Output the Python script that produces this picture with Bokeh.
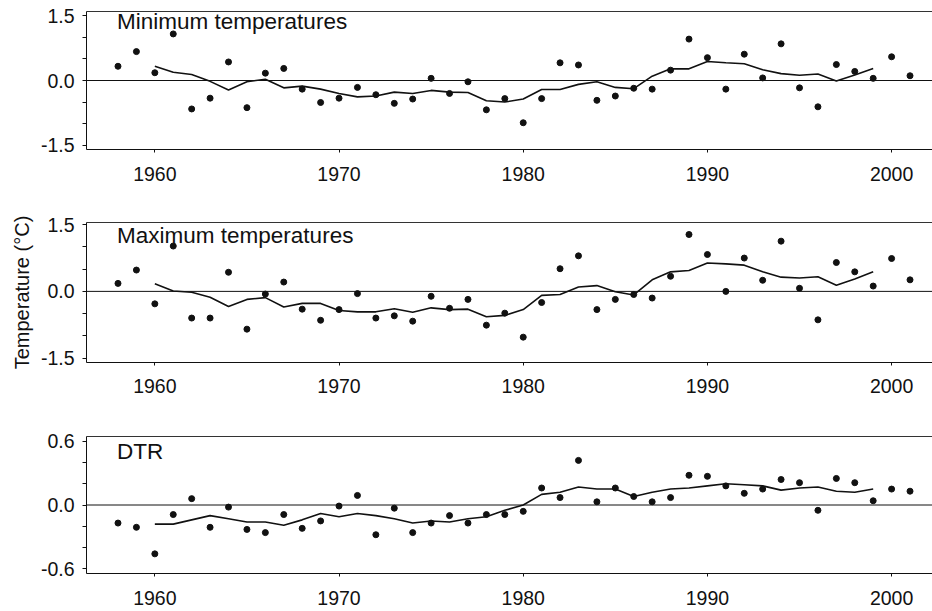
from bokeh.plotting import figure
from bokeh.layouts import column
from bokeh.models import (Range1d, FixedTicker, PrintfTickFormatter, Span, Label,
                          LinearAxis, ColumnDataSource)
from bokeh.embed import file_html
from bokeh.resources import INLINE

years = list(range(1958, 2002))
smooth_years = list(range(1960, 2000))

tmin = [0.33, 0.67, 0.18, 1.08, -0.66, -0.41, 0.43, -0.63, 0.17, 0.28,
        -0.2, -0.51, -0.41, -0.16, -0.33, -0.53, -0.43, 0.05, -0.3, -0.03,
        -0.68, -0.42, -0.98, -0.42, 0.41, 0.36, -0.46, -0.36, -0.18, -0.2,
        0.24, 0.96, 0.53, -0.2, 0.61, 0.06, 0.85, -0.17, -0.61, 0.37,
        0.21, 0.05, 0.55, 0.11]
tmin_smooth = [0.33, 0.19, 0.14, -0.02, -0.22, -0.03, 0.03, -0.17, -0.13, -0.2,
               -0.3, -0.38, -0.36, -0.27, -0.3, -0.23, -0.27, -0.28, -0.47, -0.5,
               -0.43, -0.21, -0.21, -0.09, -0.03, -0.16, -0.19, 0.1, 0.27, 0.27,
               0.44, 0.41, 0.39, 0.25, 0.16, 0.12, 0.15, -0.01, 0.13, 0.28]

tmax = [0.18, 0.48, -0.28, 1.02, -0.6, -0.6, 0.43, -0.85, -0.06, 0.21,
        -0.4, -0.65, -0.41, -0.05, -0.6, -0.55, -0.67, -0.11, -0.38, -0.18,
        -0.76, -0.49, -1.03, -0.25, 0.51, 0.8, -0.41, -0.18, -0.07, -0.15,
        0.34, 1.28, 0.83, 0.0, 0.75, 0.25, 1.13, 0.07, -0.64, 0.65,
        0.44, 0.12, 0.74, 0.26]
tmax_smooth = [0.17, 0.01, -0.02, -0.13, -0.34, -0.18, -0.14, -0.35, -0.27, -0.27,
               -0.43, -0.46, -0.46, -0.39, -0.47, -0.37, -0.41, -0.4, -0.57, -0.54,
               -0.41, -0.09, -0.07, 0.1, 0.13, -0.01, -0.08, 0.26, 0.44, 0.47,
               0.64, 0.62, 0.59, 0.44, 0.32, 0.3, 0.33, 0.14, 0.28, 0.44]

dtr = [-0.17, -0.21, -0.46, -0.09, 0.06, -0.21, -0.02, -0.23, -0.26, -0.09,
       -0.22, -0.15, -0.01, 0.09, -0.28, -0.03, -0.26, -0.17, -0.1, -0.17,
       -0.09, -0.09, -0.06, 0.16, 0.07, 0.42, 0.03, 0.16, 0.08, 0.03,
       0.07, 0.28, 0.27, 0.18, 0.11, 0.15, 0.24, 0.21, -0.05, 0.25,
       0.21, 0.04, 0.15, 0.13]
dtr_smooth = [-0.18, -0.18, -0.14, -0.1, -0.13, -0.16, -0.16, -0.19, -0.14, -0.08,
              -0.11, -0.08, -0.1, -0.13, -0.17, -0.15, -0.16, -0.13, -0.11, -0.05,
              0.0, 0.1, 0.12, 0.17, 0.15, 0.15, 0.08, 0.12, 0.15, 0.16,
              0.18, 0.2, 0.19, 0.18, 0.14, 0.16, 0.17, 0.13, 0.12, 0.15]

x_ticks = [1960, 1970, 1980, 1990, 2000]
titles = ["Minimum temperatures", "Maximum temperatures", "DTR"]
y_label = "Temperature (°C)"

FONT = "Liberation Sans"
INK = "#111111"


def make_panel(values, smooth, title, yrange, yticks, yminor, height,
               top, bottom, title_y, xstandoff, ylabel=None):
    p = figure(width=932, height=height, output_backend="svg",
               toolbar_location=None,
               x_range=Range1d(1956.29, 2002.22),
               y_range=Range1d(*yrange),
               min_border_left=86, min_border_right=0,
               min_border_top=top, min_border_bottom=bottom)
    p.outline_line_color = None
    p.grid.visible = False
    p.background_fill_color = "white"
    p.border_fill_color = "white"

    xa = p.xaxis[0]
    xa.ticker = FixedTicker(ticks=x_ticks, minor_ticks=[])
    xa.major_tick_in = 0
    xa.major_tick_out = 3
    xa.minor_tick_line_color = None
    xa.axis_line_color = INK
    xa.major_tick_line_color = INK
    xa.major_label_text_font = FONT
    xa.major_label_text_font_size = "19.5px"
    xa.major_label_text_color = INK
    xa.major_label_standoff = xstandoff

    ya = p.yaxis[0]
    ya.ticker = FixedTicker(ticks=yticks, minor_ticks=yminor)
    ya.formatter = PrintfTickFormatter(format="%.1f")
    ya.major_tick_in = 0
    ya.major_tick_out = 4
    ya.minor_tick_in = 0
    ya.minor_tick_out = 4
    ya.axis_line_color = INK
    ya.major_tick_line_color = INK
    ya.minor_tick_line_color = INK
    ya.major_label_text_font = FONT
    ya.major_label_text_font_size = "19.5px"
    ya.major_label_text_color = INK
    ya.major_label_standoff = 8
    if ylabel:
        ya.axis_label = ylabel
        ya.axis_label_text_font = FONT
        ya.axis_label_text_font_size = "20px"
        ya.axis_label_text_font_style = "normal"
        ya.axis_label_text_color = INK
        ya.axis_label_standoff = 5

    top_axis = LinearAxis(ticker=FixedTicker(ticks=[]), axis_line_color="#333333",
                          major_tick_out=0, major_tick_in=0, minor_tick_out=0,
                          minor_tick_in=0, major_label_standoff=0,
                          major_label_text_font_size="0px")
    p.add_layout(top_axis, "above")

    p.add_layout(Span(location=0, dimension="width", line_color=INK, line_width=1))

    src = ColumnDataSource(dict(x=years, y=values))
    p.scatter("x", "y", source=src, size=6, color=INK)
    p.line(smooth_years, smooth, line_color=INK, line_width=1.6)

    p.add_layout(Label(x=1957.95, y=title_y, text=title, text_font=FONT,
                       text_font_size="22.5px", text_color=INK,
                       text_baseline="alphabetic"))
    return p


p1 = make_panel(tmin, tmin_smooth, titles[0], (-1.6, 1.6), [-1.5, 0, 1.5],
                [-1.0, -0.5, 0.5, 1.0], 195, 11, 46, 1.36, 14)
p2 = make_panel(tmax, tmax_smooth, titles[1], (-1.6, 1.55), [-1.5, 0, 1.5],
                [-1.0, -0.5, 0.5, 1.0], 215, 27, 48, 1.25, 13, ylabel=y_label)
p3 = make_panel(dtr, dtr_smooth, titles[2], (-0.645, 0.645), [-0.6, 0, 0.6],
                [-0.4, -0.2, 0.2, 0.4], 201, 26, 38, 0.5, 14)

layout = column(p1, p2, p3, spacing=0)
open("out.html", "w").write(file_html(layout, INLINE))
